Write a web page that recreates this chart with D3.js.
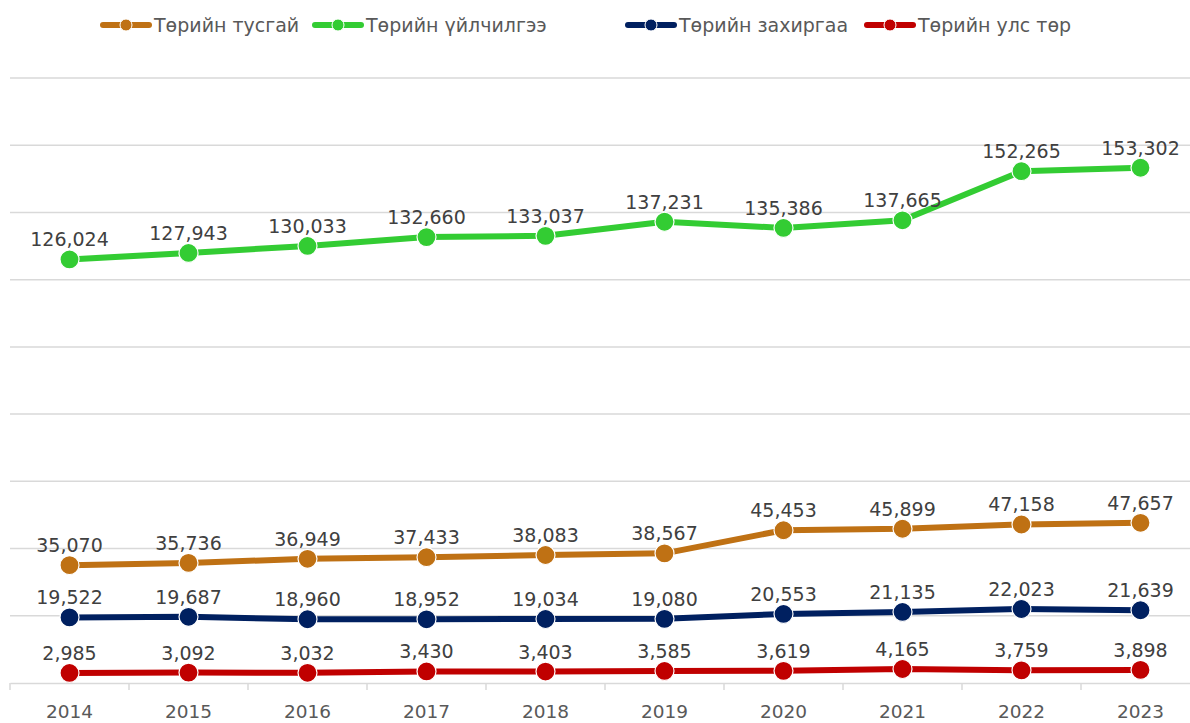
<!DOCTYPE html>
<html>
<head>
<meta charset="utf-8">
<script src="https://cdn.jsdelivr.net/npm/d3@7"></script>
<style>
  body { margin: 0; background: #fff; }
  svg { display: block; font-family: "DejaVu Sans", "Liberation Sans", Arial, sans-serif; }
</style>
</head>
<body>
<div id="chart"></div>
<script>
// data
const years = ["2014", "2015", "2016", "2017", "2018", "2019", "2020", "2021", "2022", "2023"];
const tusgai = [35070, 35736, 36949, 37433, 38083, 38567, 45453, 45899, 47158, 47657];
const uilchilgee = [126024, 127943, 130033, 132660, 133037, 137231, 135386, 137665, 152265, 153302];
const zahirgaa = [19522, 19687, 18960, 18952, 19034, 19080, 20553, 21135, 22023, 21639];
const ulsTur = [2985, 3092, 3032, 3430, 3403, 3585, 3619, 4165, 3759, 3898];
const yTicks = [0, 20000, 40000, 60000, 80000, 100000, 120000, 140000, 160000, 180000];

const series = [
  {name: "Төрийн тусгай", values: tusgai, color: "#BF7114"},
  {name: "Төрийн үйлчилгээ", values: uilchilgee, color: "#33CC33"},
  {name: "Төрийн захиргаа", values: zahirgaa, color: "#002060"},
  {name: "Төрийн улс төр", values: ulsTur, color: "#C00000"}
];

const width = 1190, height = 723;
const margin = {top: 78, right: -10, bottom: 40, left: 10};

const svg = d3.select("#chart").append("svg")
  .attr("width", width)
  .attr("height", height);

const x = d3.scaleBand().domain(years).range([margin.left, width - margin.right]);
const y = d3.scaleLinear().domain([0, 180000]).range([height - margin.bottom, margin.top]);

// gridlines
svg.append("g").selectAll("line")
  .data(yTicks.slice(1))
  .join("line")
  .attr("x1", margin.left).attr("x2", width)
  .attr("y1", d => y(d)).attr("y2", d => y(d))
  .attr("stroke", "#d9d9d9").attr("stroke-width", 1.5);

// x axis
const xAxisG = svg.append("g")
  .attr("transform", `translate(0,${y(0)})`)
  .call(d3.axisBottom(x).tickSize(0).tickPadding(22))
  .attr("font-family", null);
xAxisG.select(".domain").attr("stroke", "#d9d9d9").attr("stroke-width", 1.5);
xAxisG.selectAll("text").attr("font-size", 18.5).attr("fill", "#595959");

// tick marks at category boundaries
svg.append("g").selectAll("line")
  .data(years)
  .join("line")
  .attr("x1", d => x(d)).attr("x2", d => x(d))
  .attr("y1", y(0)).attr("y2", y(0) + 7)
  .attr("stroke", "#d9d9d9").attr("stroke-width", 1.5);

const cx = d => x(d) + x.bandwidth() / 2;
const line = d3.line().x((d, i) => cx(years[i])).y(d => y(d));
const fmt = d3.format(",");

series.forEach(s => {
  const g = svg.append("g");
  g.append("path")
    .datum(s.values)
    .attr("d", line)
    .attr("fill", "none")
    .attr("stroke", s.color)
    .attr("stroke-width", 6)
    .attr("stroke-linejoin", "round");
  g.selectAll("circle")
    .data(s.values)
    .join("circle")
    .attr("cx", (d, i) => cx(years[i]))
    .attr("cy", d => y(d))
    .attr("r", 9.5)
    .attr("fill", s.color)
    .attr("stroke", "#fff")
    .attr("stroke-width", 1.2);
  g.selectAll("text")
    .data(s.values)
    .join("text")
    .attr("x", (d, i) => cx(years[i]))
    .attr("y", d => y(d) - 13)
    .attr("text-anchor", "middle")
    .attr("font-size", 19)
    .attr("fill", "#404040")
    .text(d => fmt(d));
});

// legend
const legendX = [100, 312, 625, 864];
const legend = svg.append("g");
series.forEach((s, i) => {
  const lg = legend.append("g").attr("transform", `translate(${legendX[i]},25)`);
  lg.append("line")
    .attr("x1", 3).attr("x2", 49)
    .attr("stroke", s.color).attr("stroke-width", 6)
    .attr("stroke-linecap", "round");
  lg.append("circle")
    .attr("cx", 26).attr("r", 6)
    .attr("fill", s.color).attr("stroke", "#fff").attr("stroke-width", 1);
  lg.append("text")
    .attr("x", 54).attr("dy", "0.35em")
    .attr("font-size", 19)
    .attr("fill", "#595959")
    .text(s.name);
});
</script>
</body>
</html>
